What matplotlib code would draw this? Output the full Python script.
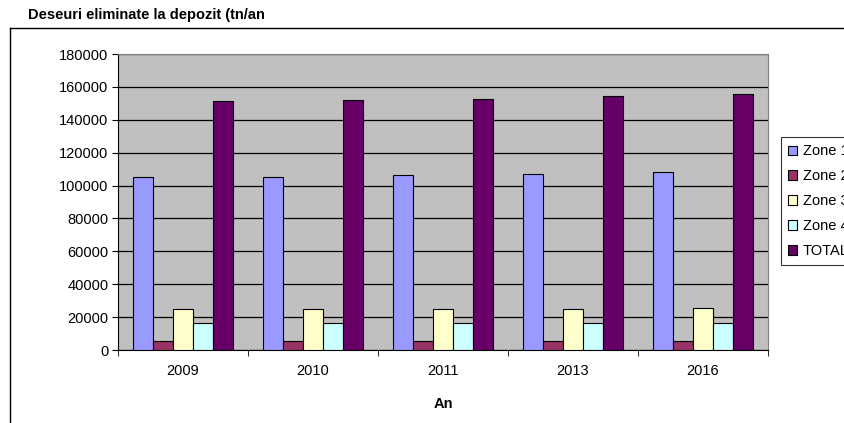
import matplotlib
matplotlib.use("Agg")
from matplotlib import pyplot as plt
from matplotlib.lines import Line2D
import numpy as np

plt.rcParams['font.family'] = ['Liberation Sans', 'DejaVu Sans']

# Data
years = ["2009", "2010", "2011", "2013", "2016"]
zone1 = [105400, 105400, 106400, 107200, 108400]
zone2 = [5300, 5300, 5300, 5300, 5300]
zone3 = [24900, 24900, 24900, 24900, 25500]
zone4 = [16400, 16400, 16400, 16400, 16400]
total = [151400, 152000, 152800, 154400, 155800]

series = [("Zone 1", zone1, "#9999FF"),
          ("Zone 2", zone2, "#993366"),
          ("Zone 3", zone3, "#FFFFCC"),
          ("Zone 4", zone4, "#CCFFFF"),
          ("TOTAL", total, "#660066")]

FS = 10.5
W, H = 845, 423
fig = plt.figure(figsize=(W / 100, H / 100), dpi=100)
ax = fig.add_axes([118 / W, 1 - 350 / H, (768 - 118) / W, (350 - 54) / H])
ax.set_facecolor("#C0C0C0")

x = np.arange(len(years))
bw = 20 / 130
for i, (name, vals, col) in enumerate(series):
    ax.bar(x + (i - 2) * bw, vals, width=bw, color=col, edgecolor="black",
           linewidth=0.8, label=name, zorder=3)

ax.set_xlim(-0.5, len(years) - 0.5)
ax.set_ylim(0, 180000)
ax.set_yticks(np.arange(0, 180001, 20000))
ax.set_yticklabels([str(v) for v in range(0, 180001, 20000)], fontsize=FS)
ax.yaxis.grid(True, color="black", linewidth=0.9, zorder=1)
ax.set_axisbelow(True)

ax.set_xticks(x)
ax.set_xticklabels(years, fontsize=FS)
ax.set_xticks(np.arange(-0.5, len(years)), minor=True)
ax.tick_params(axis="x", which="major", length=0, pad=10)
ax.tick_params(axis="x", which="minor", length=4, direction="out", color="black")
ax.tick_params(axis="y", length=4, direction="out", pad=3)
ax.set_xlabel("An", fontsize=FS, fontweight="bold", labelpad=14)

for s in ["top", "right"]:
    ax.spines[s].set_color("#808080")
for s in ["left", "bottom"]:
    ax.spines[s].set_color("black")

fig.text(28 / W, 1 - 15 / H, "Deseuri eliminate la depozit (tn/an",
         fontsize=FS, fontweight="bold", va="center", ha="left")

# outer chart frame
fig.add_artist(Line2D([10 / W, 10 / W], [0, 1 - 28 / H], color="black", lw=1))
fig.add_artist(Line2D([10 / W, 1], [1 - 28 / H, 1 - 28 / H], color="black", lw=1))

leg = ax.legend(loc="upper left", bbox_to_anchor=(781 / W, 1 - 137 / H),
                bbox_transform=fig.transFigure, fontsize=FS, frameon=True,
                fancybox=False, edgecolor="black", handlelength=0.6,
                handleheight=0.6, handletextpad=0.4, labelspacing=0.75,
                borderpad=0.5, borderaxespad=0)
leg.get_frame().set_linewidth(0.8)

fig.savefig("out.png", dpi=100)
